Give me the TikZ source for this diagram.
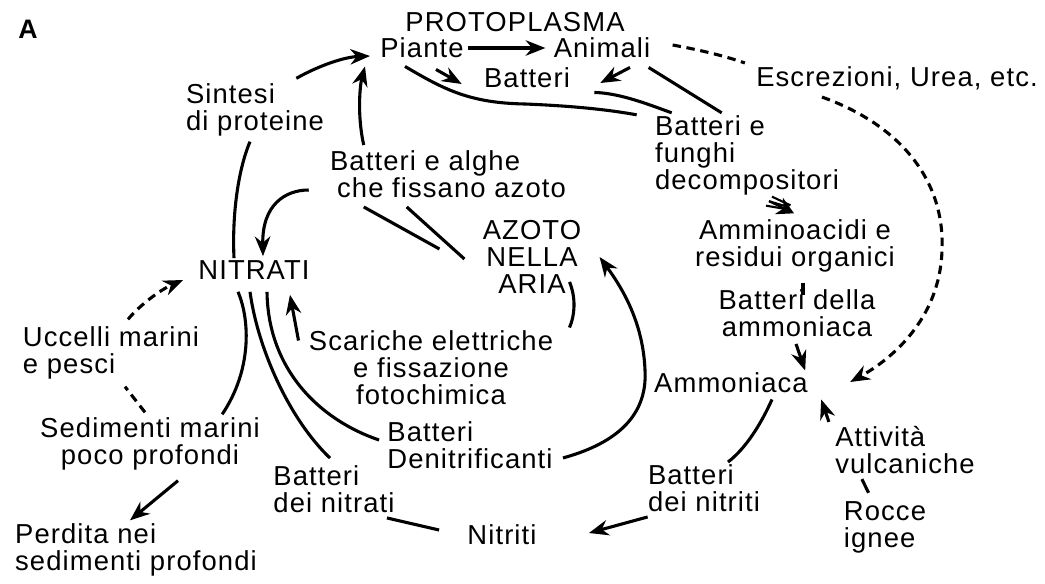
\documentclass[tikz,border=0pt]{standalone}
\usepackage{fontspec}
\setmainfont[LetterSpace=4]{Liberation Sans}
\usetikzlibrary{arrows.meta}
\tikzset{
    lbl/.style={inner sep=1.5pt, align=center, font=\fontsize{19.5}{19.2}\selectfont},
    lbll/.style={lbl, align=left},
    flow/.style={-{Stealth[length=14pt, width=11pt]}, line width=2.2pt},
    link/.style={line width=2.2pt},
    dflow/.style={flow, dash pattern=on 6pt off 4pt},
    dlink/.style={link, dash pattern=on 6pt off 4pt}
}
\begin{document}
\begin{tikzpicture}[x=0.025cm, y=-0.025cm]
    \useasboundingbox (0,0) rectangle (1045,584);

    % Labels
    \node[lbl, font=\fontsize{19}{19}\selectfont\bfseries] (panel) at (28,29) {A};
    \node[lbl] (proto) at (515,22) {PROTOPLASMA};
    \node[lbl] (piante) at (422,48) {Piante};
    \node[lbl] (animali) at (602,48) {Animali};
    \node[lbl] (batteri) at (527,78) {Batteri};
    \node[lbl] (escr) at (897,78) {Escrezioni, Urea, etc.};
    \node[lbll] (sintesi) at (255,110) {Sintesi\\di proteine};
    \node[lbll] (fissatori) at (448,174) {Batteri e alghe\\\hspace{7\dimexpr0.025cm\relax}che fissano azoto};
    \node[lbll] (decomp) at (747,155) {Batteri e\\funghi\\decompositori};
    \node[lbl] (azoto) at (532,257) {AZOTO\\NELLA\\ARIA};
    \node[lbl] (nitrati) at (254,270) {NITRATI};
    \node[lbl] (ammino) at (795,246) {Amminoacidi e\\residui organici};
    \node[lbl] (bamm) at (797,313) {Batteri della\\ammoniaca};
    \node[lbl] (ammoniaca) at (731,383) {Ammoniaca};
    \node[lbll] (uccelli) at (111,353) {Uccelli marini\\e pesci};
    \node[lbl] (scariche) at (431,368) {Scariche elettriche\\e fissazione\\fotochimica};
    \node[lbl] (sedim) at (150,444) {Sedimenti marini\\poco profondi};
    \node[lbll] (denitr) at (470,445) {Batteri\\Denitrificanti};
    \node[lbll] (bnitrati) at (334,489) {Batteri\\dei nitrati};
    \node[lbll] (bnitriti) at (704,488) {Batteri\\dei nitriti};
    \node[lbll] (vulc) at (905,450) {Attività\\vulcaniche};
    \node[lbll] (rocce) at (885,527) {Rocce\\ignee};
    \node[lbl] (nitriti) at (502,535) {Nitriti};
    \node[lbll] (perdita) at (136,550) {Perdita nei\\sedimenti profondi};

    % Protoplasma
    \draw[flow] ([shift={(2,0)}]piante.east) -- ([shift={(-6,0)}]animali.west);
    \draw[flow] ([shift={(14,9)}]piante.south) -- ([shift={(-20,6)}]batteri.west);
    \draw[flow] ([shift={(28,7)}]animali.south) -- ([shift={(28,5)}]batteri.east);
    \draw[dlink] ([shift={(20,-3)}]animali.east) .. controls (700,50) and (725,56) .. ([shift={(-9,-15)}]escr.west);
    \draw[dflow] ([shift={(-75,5)}]escr.south) .. controls (900,125) and (945,180) .. (942,250)
        .. controls (940,320) and (890,360) .. ([shift={(40,-1)}]ammoniaca.east);

    % Decomposizione
    \draw[link] ([shift={(-17,6)}]piante.south) .. controls (445,90) and (470,103) .. (525,104)
        .. controls (575,106) and (610,110) .. ([shift={(-16,2)}]decomp.north west);
    \draw[link] ([shift={(22,2)}]batteri.south east) .. controls (620,93) and (650,105) .. ([shift={(19,0)}]decomp.north west);
    \draw[link] ([shift={(-4,7)}]animali.south east) -- ([shift={(69,0)}]decomp.north west);
    \foreach \o in {-1,0,1}
        \draw[line width=1.5pt] ([shift={(22-3*\o,4+4.5*\o)}]decomp.south) -- ([shift={(-6-1.5*\o,-10+2*\o)}]ammino.north);
    \draw[-{Stealth[length=12pt, width=13pt]}, line width=1.5pt] ([shift={(22,4)}]decomp.south) -- ([shift={(-1,-4)}]ammino.north);
    \draw[link] ([shift={(8,8)}]ammino.south) -- ([shift={(8,20)}]ammino.south);
    \draw[flow] ([shift={(-1,5)}]bamm.south) -- ([shift={(-5,0)}]ammoniaca.north east);

    % Ammoniaca e nitriti
    \draw[link] ([shift={(41,4)}]ammoniaca.south) .. controls (765,415) and (750,445) .. ([shift={(24,0)}]bnitriti.north);
    \draw[flow] ([shift={(2,3)}]bnitriti.south west) -- ([shift={(50,-2)}]nitriti.east);
    \draw[flow] ([shift={(-4,-2)}]vulc.north west) -- ([shift={(11,4)}]ammoniaca.south east);
    \draw[link] ([shift={(29,3)}]vulc.south west) -- ([shift={(27,-6)}]rocce.north west);
    \draw[link] ([shift={(-10,3)}]bnitrati.south east) -- ([shift={(-26,-5)}]nitriti.west);

    % Azoto atmosferico
    \draw[flow] ([shift={(8,-13)}]denitr.south east) .. controls (610,445) and (648,420) .. (645,370)
        .. controls (643,320) and (620,285) .. ([shift={(16,0)}]azoto.east);
    \draw[link] ([shift={(-14,-14)}]azoto.south east) .. controls (576,298) and (575,315) .. ([shift={(14,-1)}]scariche.north east);
    \draw[flow] ([shift={(-8,12)}]scariche.north west) -- ([shift={(-22,13)}]nitrati.south east);
    \draw[link] ([shift={(36,7)}]fissatori.south west) -- ([shift={(-41,-8)}]azoto.west);
    \draw[link] ([shift={(79,7)}]fissatori.south west) -- ([shift={(-16,2)}]azoto.west);
    \draw[flow] ([shift={(-19,16)}]fissatori.west) .. controls (285,190) and (262,205) .. ([shift={(9,-2)}]nitrati.north);
    \draw[flow] ([shift={(36,-3)}]fissatori.north west) .. controls (357,115) and (360,85) .. ([shift={(-13,6)}]piante.south west);

    % Nitrati
    \draw[flow] ([shift={(-30,-3)}]sintesi.north east) .. controls (320,65) and (345,57) .. ([shift={(-8,8)}]piante.west);
    \draw[link] ([shift={(-20,0)}]nitrati.north) .. controls (232,215) and (238,170) .. ([shift={(-5,3)}]sintesi.south);
    \draw[link] ([shift={(-16,10)}]nitrati.south) .. controls (250,320) and (252,370) .. ([shift={(-40,-1)}]sedim.north east);
    \draw[link] ([shift={(-4,10)}]nitrati.south) .. controls (258,350) and (290,420) .. ([shift={(-4,-5)}]bnitrati.north);
    \draw[link] ([shift={(13,10)}]nitrati.south) .. controls (268,370) and (320,420) .. ([shift={(-6,-5)}]denitr.west);

    % Mare
    \draw[dflow] ([shift={(17,-5)}]uccelli.north) .. controls (140,305) and (160,290) .. ([shift={(-13,10)}]nitrati.west);
    \draw[dlink] ([shift={(-5,-3)}]sedim.north) -- ([shift={(14,5)}]uccelli.south);
    \draw[flow] ([shift={(28,8)}]sedim.south) -- ([shift={(-6,-1)}]perdita.north);
\end{tikzpicture}
\end{document}
